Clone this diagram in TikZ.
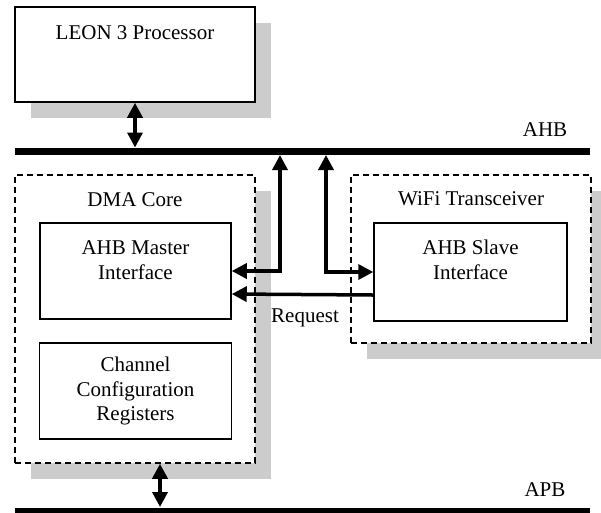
\documentclass[tikz,border=0pt]{standalone}
\usepackage{fontspec}
\setmainfont{Liberation Serif}
\usepackage{tikz}
\usetikzlibrary{arrows.meta, shadows, positioning}

\begin{document}
\begin{tikzpicture}[x=1pt, y=-1pt,
    box/.style={draw, line width=1.5pt, fill=white, inner sep=0pt},
    dbox/.style={box, dash pattern=on 6pt off 4pt},
    dropsh/.style={drop shadow={shadow xshift=16pt, shadow yshift=-16pt, fill=gray!40, opacity=1}},
    bus/.style={line width=7pt},
    link/.style={line width=3.5pt, {Triangle[length=15pt,width=15pt]}-{Triangle[length=15pt,width=15pt]}},
    req/.style={line width=3.5pt, -{Triangle[length=15pt,width=15pt]}},
    txt/.style={font=\fontsize{21}{24.5}\selectfont, align=center}]
    \useasboundingbox (0,0) rectangle (601,512);
    % Processor
    \node[box, dropsh, minimum width=240pt, minimum height=95pt] (leon) at (135,54.5) {};
    \node[txt] (leonT) at (135,33) {LEON 3 Processor};
    % DMA core
    \node[dbox, dropsh, minimum width=240pt, minimum height=288pt] (dma) at (135,319) {};
    \node[txt] (dmaT) at (135,200) {DMA Core};
    \node[box, minimum width=191pt, minimum height=96pt] (master) at (135.5,271) {};
    \node[txt] (masterT) at (135.5,260) {AHB Master\\Interface};
    \node[box, txt, minimum width=192pt, minimum height=96pt] (chan) at (135.5,391) {Channel\\Configuration\\Registers};
    % WiFi transceiver
    \node[dbox, dropsh, minimum width=240pt, minimum height=168pt] (wifi) at (471,259) {};
    \node[txt] (wifiT) at (471,199) {WiFi Transceiver};
    \node[box, minimum width=193pt, minimum height=98pt] (slave) at (470.5,272) {};
    \node[txt] (slaveT) at (470.5,260) {AHB Slave\\Interface};
    % Buses
    \coordinate (ahbW) at (15,151);
    \coordinate (ahbE) at (590,151);
    \coordinate (apbW) at (15,511);
    \coordinate (apbE) at (590,511);
    \draw[bus] (ahbW) -- (ahbE);
    \draw[bus] (apbW) -- (apbE);
    \node[txt] (ahb) at (545,130) {AHB};
    \node[txt] (apb) at (545,490) {APB};
    % Links
    \coordinate (leonTap) at (135,147.5);
    \coordinate (mTap) at (280,155);
    \coordinate (sTap) at (326,155);
    \coordinate (apbTap) at (160,507);
    \draw[link] (leon.south) -- (leonTap);
    \draw[link] ([xshift=25pt]dma.south) -- (apbTap);
    \draw[link] (master.east) -| (mTap);
    \draw[link] (slave.west) -| (sTap);
    \draw[req] ([yshift=-23pt]slave.west) -- ([yshift=-23pt]master.east);
    \node[txt] (reqT) at (305,318) {Request};
\end{tikzpicture}
\end{document}
